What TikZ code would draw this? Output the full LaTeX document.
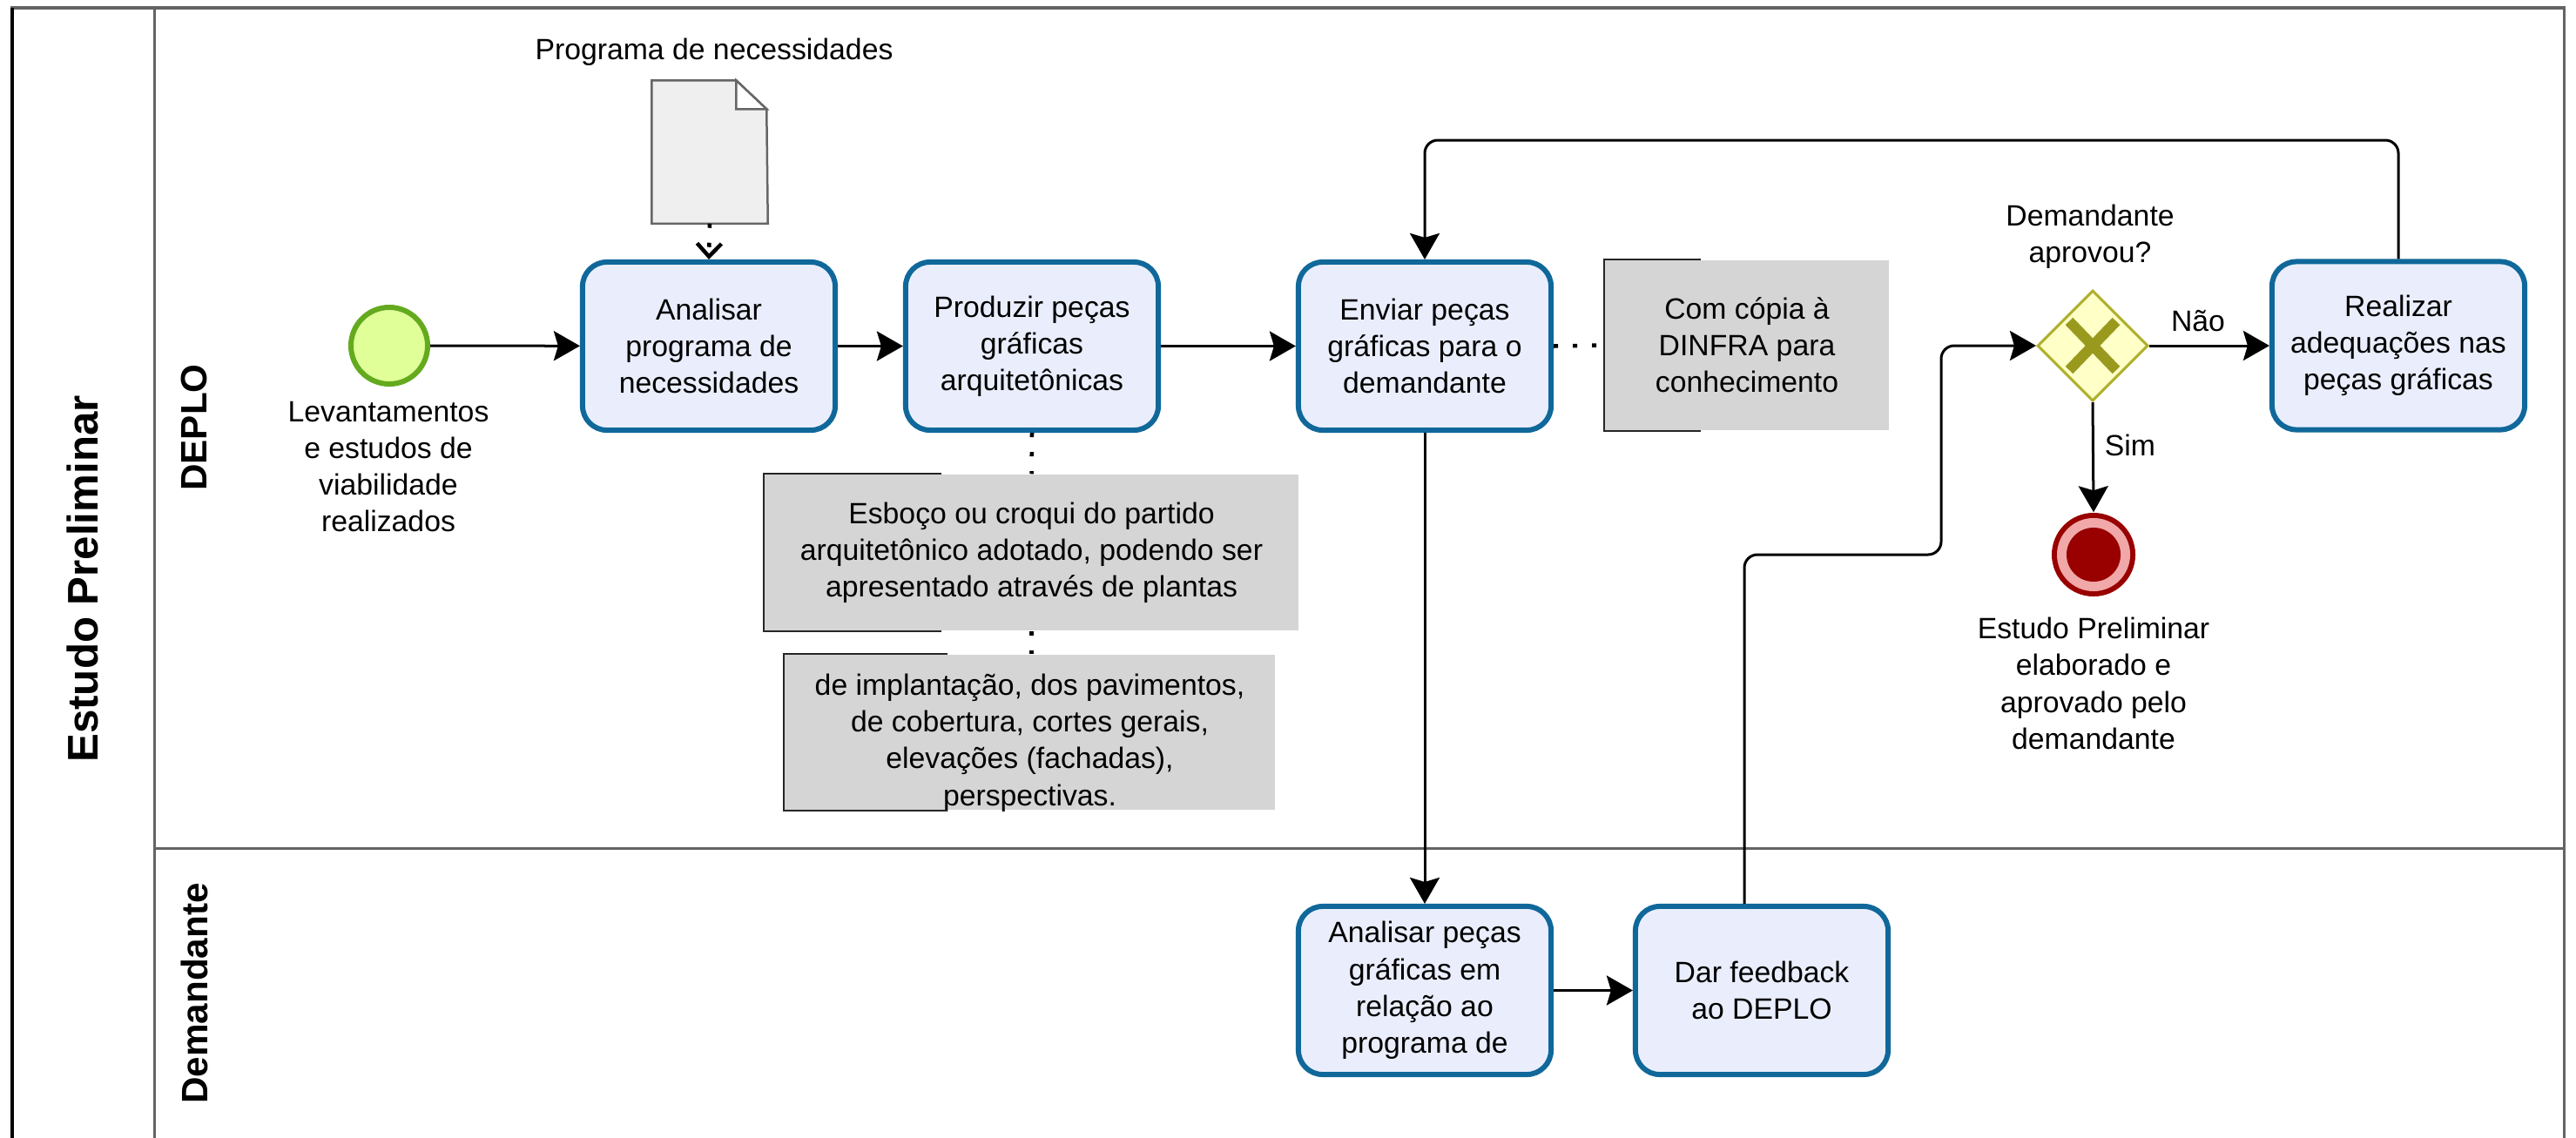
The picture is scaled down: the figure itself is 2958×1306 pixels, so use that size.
\documentclass[tikz,border=0pt]{standalone}
\usepackage{fontspec}
\setmainfont{Liberation Sans}
\usetikzlibrary{arrows.meta,shapes.geometric,calc}
\definecolor{taskfill}{RGB}{234,238,252}
\definecolor{taskdraw}{RGB}{16,104,154}
\definecolor{startfill}{RGB}{224,255,153}
\definecolor{startdraw}{RGB}{100,170,30}
\definecolor{gwfill}{RGB}{255,255,200}
\definecolor{gwdraw}{RGB}{175,175,45}
\definecolor{gwx}{RGB}{153,153,30}
\definecolor{endred}{RGB}{153,0,0}
\definecolor{endpink}{RGB}{240,168,168}
\definecolor{annfill}{RGB}{213,213,213}
\definecolor{docfill}{RGB}{239,239,239}
\definecolor{docdraw}{RGB}{102,102,102}
\definecolor{lanedraw}{RGB}{100,100,100}
\tikzset{
  task/.style={draw=taskdraw, fill=taskfill, line width=0.06cm, rounded corners=0.28cm,
    minimum width=2.90cm, minimum height=1.93cm, align=center, inner sep=0pt},
  startev/.style={circle, draw=startdraw, fill=startfill, line width=0.06cm, minimum size=0.88cm, inner sep=0pt},
  gw/.style={diamond, aspect=1, draw=gwdraw, fill=gwfill, line width=0.03cm, minimum size=1.27cm, inner sep=0pt},
  seq/.style={draw=black, line width=0.03cm, -{Stealth[length=0.3cm,width=0.34cm,inset=0.05cm]}},
  assoc/.style={draw=black, line width=0.045cm, dash pattern=on 0.05cm off 0.17cm},
  ann/.style={fill=annfill, inner sep=0pt, align=center},
  bracket/.style={draw=black!85, line width=0.02cm},
  lbl/.style={align=center, inner sep=0pt},
  lanelbl/.style={rotate=90, font=\bfseries\fontsize{12}{14}\selectfont, inner sep=0pt},
}
\begin{document}
\begin{tikzpicture}[x=0.01cm,y=-0.01cm,font=\fontsize{9.6}{12}\selectfont]
\useasboundingbox (0,0) rectangle (2958,1306);
% frame
\draw[lanedraw, line width=0.03cm] (14,1310) -- (14,9) -- (2944,9) -- (2944,1310);
\draw[black, line width=0.035cm] (14,9) -- (14,1310);
\draw[lanedraw, line width=0.03cm] (177,9) -- (177,1310);
\draw[lanedraw, line width=0.03cm] (177,974) -- (2944,974);
% pool and lane labels
\node[rotate=90, font=\bfseries\fontsize{14}{16}\selectfont, inner sep=0pt] (pool) at (95,665) {Estudo Preliminar};
\node[lanelbl] (lane1) at (223,491) {DEPLO};
\node[lanelbl] (lane2) at (223,1141) {Demandante};
% document
\node[inner sep=0pt, minimum width=1.32cm, minimum height=1.63cm] (doc) at (815,174.5) {};
\draw[docdraw, fill=docfill, line width=0.025cm] (doc.north west) -- ++(97,0) -- ++(35,33) -- (doc.south east) -- (doc.south west) -- cycle;
\draw[docdraw, fill=white, line width=0.025cm] ($(doc.north west)+(97,0)$) -- ++(0,33) -- ++(35,0) -- cycle;
\node[lbl] (doclbl) at (820,60) {Programa de necessidades};
% start
\node[startev] (start) at (447,397) {};
\node[lbl] (startlbl) at (446,536) {Levantamentos\\e estudos de\\viabilidade\\realizados};
% tasks
\node[task] (t1) at (814,397.5) {Analisar\\programa de\\necessidades};
\node[task] (t2) at (1185,397.5) {Produzir peças\\gráficas\\arquitetônicas};
\node[task] (t3) at (1636,397.5) {Enviar peças\\gráficas para o\\demandante};
\node[task] (t4) at (2754,397) {Realizar\\adequações nas\\peças gráficas};
\node[task] (t5) at (1636,1137.5) {Analisar peças\\gráficas em\\relação ao\\programa de};
\node[task] (t6) at (2023,1137.5) {Dar feedback\\ao DEPLO};
% annotations
\node[ann, minimum width=6.13cm, minimum height=1.79cm] (a1) at (1184.5,634.5) {Esboço ou croqui do partido\\arquitetônico adotado, podendo ser\\apresentado através de plantas};
\draw[bracket] ($(a1.north west)+(204,0)$) -- (a1.north west) -- (a1.south west) -- ++(204,0);
\node[ann, minimum width=5.63cm, minimum height=1.78cm] (a2) at (1182.5,841) {};
\node[lbl] (a2t) at (1182.5,853) {de implantação, dos pavimentos,\\de cobertura, cortes gerais,\\elevações (fachadas),\\perspectivas.};
\draw[bracket] ($(a2.north west)+(188,0)$) -- (a2.north west) -- (a2.south west) -- ++(188,0);
\node[ann, minimum width=3.26cm, minimum height=1.95cm] (a3) at (2006,396.5) {Com cópia à\\DINFRA para\\conhecimento};
\draw[bracket] ($(a3.north west)+(111,0)$) -- (a3.north west) -- (a3.south west) -- ++(111,0);
% gateway
\node[gw] (gw) at (2403,397) {};
\draw[gwx, line width=0.12cm] ($(gw.center)+(-27,-28)$) -- ($(gw.center)+(27,28)$);
\draw[gwx, line width=0.12cm] ($(gw.center)+(-27,28)$) -- ($(gw.center)+(27,-28)$);
\node[lbl] (gwlbl) at (2400,272) {Demandante\\aprovou?};
% end
\node[circle, fill=endred, minimum size=0.96cm, inner sep=0pt] (end) at (2404,637) {};
\fill[endpink] (end.center) circle[radius=0.42cm];
\fill[endred] (end.center) circle[radius=0.31cm];
\node[lbl] (endlbl) at (2404,785) {Estudo Preliminar\\elaborado e\\aprovado pelo\\demandante};
% sequence flows
\draw[seq] (start) -- (t1);
\draw[seq] (t1) -- (t2);
\draw[seq] (t2) -- (t3);
\draw[seq] (t3) -- (t5);
\draw[seq] (t5) -- (t6);
\draw[seq] (gw.east) -- (t4.west);
\node[lbl] (nao) at (2524,369) {Não};
\draw[seq] (gw.south) -- (end.north);
\node[lbl] (sim) at (2446,511) {Sim};
\coordinate (j1) at (2229,637);
\draw[seq, rounded corners=0.15cm] ([xshift=-0.2cm]t6.north) |- (j1) |- (gw.west);
\coordinate (loop) at (2200,161);
\draw[seq, rounded corners=0.15cm] (t4.north) |- (loop) -| (t3.north);
% associations
\draw[assoc] (t3.east) -- (a3.west);
\draw[assoc] (t2.south) -- (a1.north);
\draw[assoc] (a1.south) -- (a1.south |- a2.north);
\draw[assoc, -{Straight Barb[length=0.15cm,width=0.28cm]}] (doc.south) -- (t1.north);
\end{tikzpicture}
\end{document}
